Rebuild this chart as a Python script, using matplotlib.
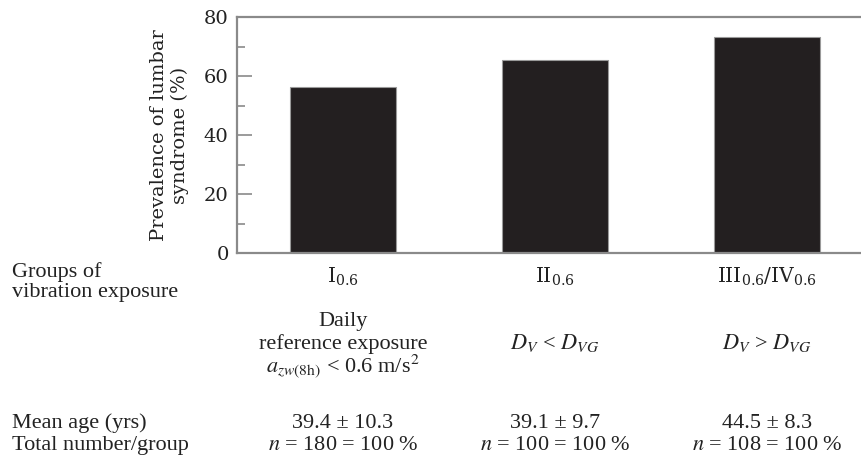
import matplotlib
matplotlib.use("Agg")
import matplotlib.pyplot as plt
import matplotlib.transforms as mtransforms

# --- data ---------------------------------------------------------------
groups = ["I$_{0.6}$", "II$_{0.6}$", "III$_{0.6}$/IV$_{0.6}$"]
prevalence = [56.2, 65.3, 73.2]
exposure = [
    "Daily\nreference exposure\n$a_{zw\\mathrm{(8h)}}$ < 0.6 m/s$^2$",
    "$D_V$ < $D_{VG}$",
    "$D_V$ > $D_{VG}$",
]
mean_age = ["39.4 ± 10.3", "39.1 ± 9.7", "44.5 ± 8.3"]
totals = [180, 100, 108]
yticks = [0, 20, 40, 60, 80]

# --- styles -------------------------------------------------------------
BAR = "#231f20"
SPINE = "#8a8a8a"
INK = "#222222"
TICK_FONT = "DejaVu Serif"
BODY_FONT = "Liberation Serif"
W, H = 861, 463

fig = plt.figure(figsize=(W / 100, H / 100), dpi=100)
ax = fig.add_axes([237 / W, 1 - 253 / H, 1 - 237 / W, (253 - 17) / H])

x = list(range(len(groups)))
ax.bar(x, prevalence, width=0.5, color=BAR, edgecolor="#9a9a9a", linewidth=0.8)

ax.set_xlim(-0.5, -0.5 + 624 / 212)
ax.set_ylim(0, 80)

for side in ("left", "bottom", "top"):
    ax.spines[side].set_color(SPINE)
    ax.spines[side].set_linewidth(1.6)
ax.spines["right"].set_visible(False)

ax.set_yticks(yticks)
ax.set_yticks([10, 30, 50, 70], minor=True)
ax.tick_params(axis="y", which="major", direction="in", length=11, width=1.2,
               color=SPINE, pad=6, labelsize=14)
ax.tick_params(axis="y", which="minor", direction="in", length=6, width=1.2,
               color=SPINE)
for t in (ax.yaxis.get_major_ticks()[0], ax.yaxis.get_major_ticks()[-1]):
    t.tick1line.set_color(INK)
for lab in ax.get_yticklabels():
    lab.set_family(TICK_FONT)
    lab.set_color(INK)

ax.set_xticks(x)
ax.set_xticklabels(groups)
ax.tick_params(axis="x", length=0, pad=9, labelsize=14.5)
for lab in ax.get_xticklabels():
    lab.set_family(TICK_FONT)
    lab.set_color(INK)
    lab.set_math_fontfamily("dejavuserif")

ax.set_ylabel("Prevalence of lumbar\nsyndrome (%)", family=TICK_FONT,
              fontsize=14, color=INK, labelpad=11, linespacing=1.2)

# --- table under the chart ---------------------------------------------
col = mtransforms.blended_transform_factory(ax.transData, fig.transFigure)


def fy(py):
    return 1 - py / H


def body(xx, py, s, transform, ha="left"):
    fig.text(xx, fy(py), s, transform=transform, ha=ha, va="baseline",
             family=BODY_FONT, fontsize=16, color=INK,
             math_fontfamily="stix")


body(12 / W, 277, "Groups of", fig.transFigure)
body(12 / W, 297, "vibration exposure", fig.transFigure)
body(12 / W, 428, "Mean age (yrs)", fig.transFigure)
body(12 / W, 450, "Total number/group", fig.transFigure)

for i in x:
    lines = exposure[i].split("\n")
    start = 326 if len(lines) == 3 else 349
    for k, line in enumerate(lines):
        body(i, start + 23 * k, line, col, ha="center")
    body(i, 428, mean_age[i], col, ha="center")
    body(i, 450, f"$n$ = {totals[i]} = 100 %", col, ha="center")

fig.savefig("out.png", dpi=100, facecolor="white")
